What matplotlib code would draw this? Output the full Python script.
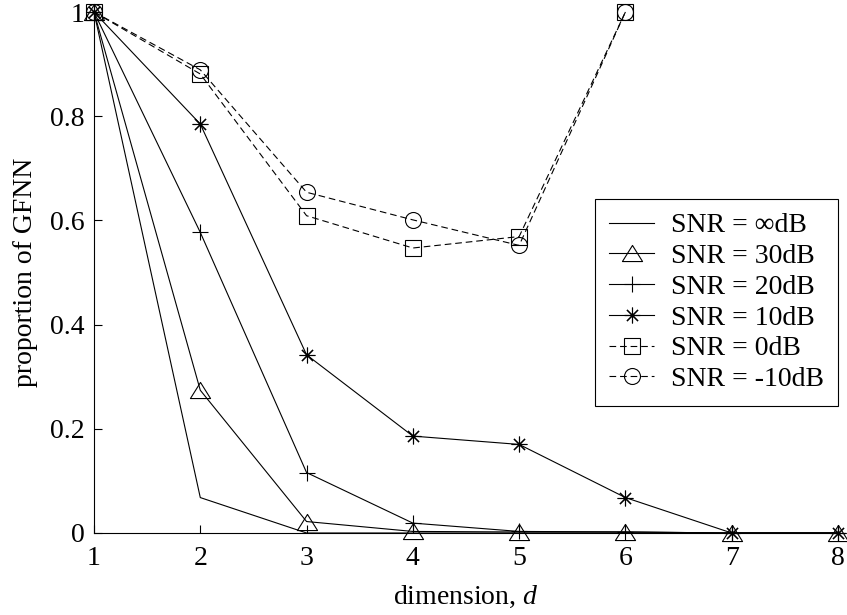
import numpy as np
import matplotlib
matplotlib.use("Agg")
import matplotlib.pyplot as plt
from matplotlib.path import Path

plt.rcParams['font.family'] = ['Liberation Serif', 'DejaVu Serif']
plt.rcParams['mathtext.fontset'] = 'custom'
plt.rcParams['mathtext.it'] = 'Liberation Serif:italic'
plt.rcParams['mathtext.rm'] = 'Liberation Serif'

# Embedding dimension and proportion of false nearest neighbours per noise level
dimension = [1, 2, 3, 4, 5, 6, 7, 8]
snr_inf = [1.0, 0.068, 0.0, 0.0, 0.0, 0.0, 0.0, 0.0]
snr_30 = [1.0, 0.274, 0.022, 0.003, 0.002, 0.002, 0.0, 0.0]
snr_20 = [1.0, 0.577, 0.116, 0.019, 0.003, 0.002, 0.0, 0.0]
snr_10 = [1.0, 0.785, 0.342, 0.186, 0.170, 0.068, 0.0, 0.0]
snr_0 = [1.0, 0.881, 0.609, 0.547, 0.569, 1.0]
snr_m10 = [1.0, 0.889, 0.654, 0.601, 0.552, 1.0]

labels = ['SNR = ∞dB', 'SNR = 30dB', 'SNR = 20dB', 'SNR = 10dB',
          'SNR = 0dB', 'SNR = -10dB']
x_ticks = [1, 2, 3, 4, 5, 6, 7, 8]
y_ticks = [0, 0.2, 0.4, 0.6, 0.8, 1]
y_tick_labels = ['0', '0.2', '0.4', '0.6', '0.8', '1']

# squat open triangle, a bit wider than tall
tri = Path([(0, 0.8), (-1, -0.8), (1, -0.8), (0, 0.8)],
           [Path.MOVETO, Path.LINETO, Path.LINETO, Path.CLOSEPOLY])

fig = plt.figure(figsize=(8.47, 6.15), dpi=100)
ax = fig.add_axes([94 / 847, 1 - 533 / 615, (838 - 94) / 847, (533 - 12) / 615])

lw = 0.8
dash = (0, (6, 3.5))
common = dict(color='black', lw=lw, mew=0.8, mfc='none', mec='black', clip_on=False)

ax.plot(dimension, snr_inf, ls='-', label=labels[0], **common)
ax.plot(dimension, snr_30, ls='-', marker=tri, ms=14.5, label=labels[1], **common)
ax.plot(dimension, snr_20, ls='-', marker='+', ms=12, label=labels[2], **common)
ax.plot(dimension, snr_10, ls='-', marker=(8, 2, 0), ms=11.3, label=labels[3], **common)
ax.plot(dimension[:len(snr_0)], snr_0, ls=dash, marker='s', ms=11.5, label=labels[4], **common)
ax.plot(dimension[:len(snr_m10)], snr_m10, ls=dash, marker='o', ms=11.5, label=labels[5], **common)

ax.set_xlim(1, 8)
ax.set_ylim(0, 1)
ax.set_xticks(x_ticks)
ax.set_yticks(y_ticks)
ax.set_yticklabels(y_tick_labels)
ax.tick_params(direction='in', length=6, width=0.8, labelsize=20, colors='black')
ax.tick_params(axis='x', pad=9.5)
ax.tick_params(axis='y', pad=6.5)
ax.spines['top'].set_visible(False)
ax.spines['right'].set_visible(False)
for s in ('left', 'bottom'):
    ax.spines[s].set_linewidth(0.8)

ax.set_xlabel('dimension, $\\mathit{d}$', fontsize=20, labelpad=9)
ax.set_ylabel('proportion of GFNN', fontsize=20, labelpad=9)

leg = ax.legend(loc='upper right', bbox_to_anchor=(1.0, 0.641), fontsize=20,
                frameon=True, fancybox=False, edgecolor='black', framealpha=1,
                handlelength=1.63, handletextpad=0.6, labelspacing=0.19,
                borderpad=0.5, borderaxespad=0.0, numpoints=1)
leg.get_frame().set_linewidth(0.8)

fig.savefig('out.png', dpi=100)
